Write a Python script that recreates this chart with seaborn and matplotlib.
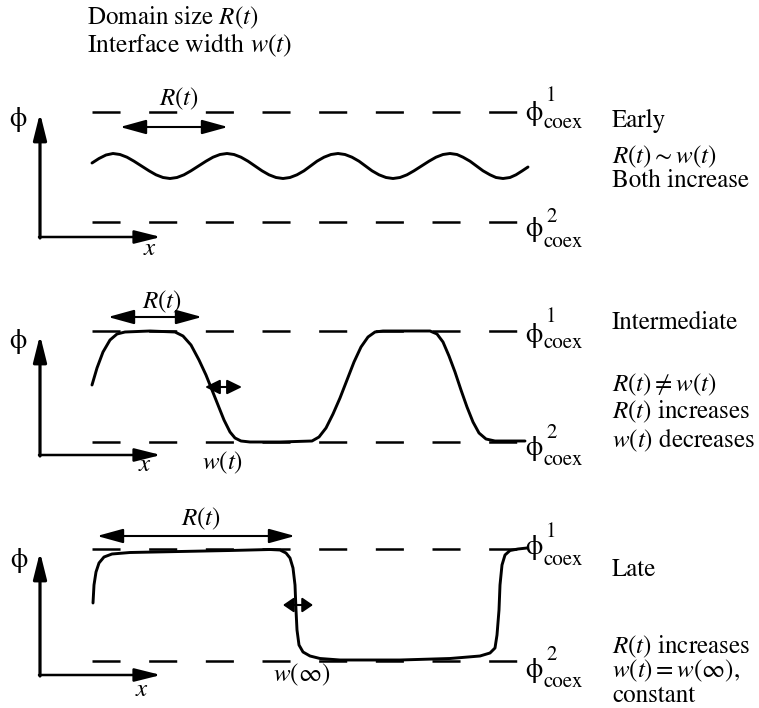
import matplotlib
matplotlib.use("Agg")
import matplotlib.pyplot as plt
import seaborn as sns
import pandas as pd

# ---------------- data (in picture pixel units) -------------
early_x = [92, 99, 106,
           113, 120, 127, 134, 141.5, 149, 156, 163,
           170, 177, 184, 191, 198.5, 206, 213, 220,
           227, 234, 241, 248, 255, 262, 269, 276,
           283, 290, 297, 304, 310.5, 317, 324, 331,
           338, 345, 352, 359, 365.5, 372, 379, 386,
           393, 400, 407, 414, 421.5, 429, 436, 443,
           450, 457, 463, 470, 476.5, 483, 490, 496,
           503, 510, 516, 522, 528]
early_y = [163, 158.5, 155,
           153.5, 154.5, 157.2, 161.2, 166, 170.8, 174.8, 177.5,
           178.5, 177.5, 174.8, 170.8, 166, 161.2, 157.2, 154.5,
           153.5, 154.5, 157.2, 161.2, 166, 170.8, 174.8, 177.5,
           178.5, 177.5, 174.8, 170.8, 166, 161.2, 157.2, 154.5,
           153.5, 154.5, 157.2, 161.2, 166, 170.8, 174.8, 177.5,
           178.5, 177.5, 174.8, 170.8, 166, 161.2, 157.2, 154.5,
           153.5, 154.5, 157.2, 161.2, 166, 170.8, 174.8, 177.5,
           178.5, 177.5, 174.8, 171, 167]

inter_x = [92, 97, 103, 110, 117, 125, 150, 175, 183, 191, 199, 206, 212, 218, 224, 230, 235,
           241, 250, 280, 312, 319, 326, 333, 340, 347, 354, 361, 368, 375, 383, 400, 430, 437,
           443, 449, 455, 461, 467, 473, 479, 486, 495, 525]
inter_y = [385, 368, 352, 340, 334, 332, 331, 332, 336, 345, 360, 375, 390, 405, 420, 432, 438,
           441, 442, 442, 441, 437, 428, 414, 398, 380, 362, 347, 337, 332, 331, 331, 331, 334,
           342, 356, 372, 390, 407, 422, 433, 439, 441, 441]

late_x = [93, 94, 96, 99, 104, 112, 130, 180, 230, 270, 280, 286, 290, 293, 295, 296, 297, 299,
          303, 310, 320, 340, 400, 450, 480, 490, 495, 497, 499, 500, 502, 505, 510, 518, 527]
late_y = [603, 585, 572, 563, 557, 554, 552.5, 551.5, 550.5, 549.5, 550, 553, 558, 568, 585, 610,
          630, 645, 652, 656, 658.5, 660, 660, 658.5, 656, 653, 648, 635, 610, 585, 565, 555,
          550.5, 549, 548]

stage_names = ["Early", "Intermediate", "Late"]
coex_upper_y = [112, 331, 549]
coex_lower_y = [222, 442, 661]
dash_x = [92, 517]

# ---------------- figure --------------------------------------------------------------
sns.set_theme(style="white")
plt.rcParams["lines.scale_dashes"] = False
plt.rcParams["mathtext.fontset"] = "stix"
plt.rcParams["font.family"] = ["STIXGeneral", "DejaVu Serif"]

W, H = 759, 708
fig = plt.figure(figsize=(W / 100, H / 100), dpi=100)
fig.patch.set_facecolor("white")
ax = fig.add_axes([0, 0, 1, 1])

K = "black"
FS = 18

# curves
curve_df = pd.concat([
    pd.DataFrame({"x": early_x, "y": early_y, "stage": stage_names[0]}),
    pd.DataFrame({"x": inter_x, "y": inter_y, "stage": stage_names[1]}),
    pd.DataFrame({"x": late_x, "y": late_y, "stage": stage_names[2]}),
])
for st in stage_names:
    d = curve_df[curve_df["stage"] == st]
    sns.lineplot(data=d, x="x", y="y", sort=False, estimator=None, color=K,
                 lw=2.1, ax=ax, legend=False)
ax.set_xlim(0, W)
ax.set_ylim(H, 0)
ax.axis("off")

# coexistence dashed lines
for yu, yl in zip(coex_upper_y, coex_lower_y):
    for yy in (yu, yl):
        ax.plot(dash_x, [yy, yy], color=K, lw=1.8, dashes=(20.2, 20.6),
                solid_capstyle="butt", dash_capstyle="butt")

# axes arrows for each panel
axis_origin_y = [237, 455, 675]
axis_top_y = [113, 335, 552]
for oy, ty in zip(axis_origin_y, axis_top_y):
    ax.annotate("", xy=(40, ty), xytext=(40, oy + 1),
                arrowprops=dict(arrowstyle="-|>,head_length=0.8,head_width=0.2",
                                mutation_scale=20, lw=2.3, color=K,
                                shrinkA=0, shrinkB=0))
    ax.annotate("", xy=(161, oy), xytext=(39, oy),
                arrowprops=dict(arrowstyle="-|>,head_length=0.8,head_width=0.2",
                                mutation_scale=20, lw=1.8, color=K,
                                shrinkA=0, shrinkB=0))

phi_axis_pos = [(18, 119), (18, 341), (19, 560)]
x_label_pos = [(150, 249), (145, 465), (142, 690)]
for (px, py), (xx, xy) in zip(phi_axis_pos, x_label_pos):
    ax.text(px, py, "\u03d5", fontsize=20, ha="center", va="center", color=K)
    ax.text(xx, xy, "$x$", fontsize=FS, ha="center", va="center", color=K)

# double arrows R(t) and w(t)
def darrow(x0, x1, y, hl=0.8, hw=0.22, lw=1.5):
    ax.annotate("", xy=(x1, y), xytext=(x0, y),
                arrowprops=dict(arrowstyle=f"<|-|>,head_length={hl},head_width={hw}",
                                mutation_scale=20, lw=lw, color=K,
                                shrinkA=0, shrinkB=0))

darrow(120, 228, 127)
darrow(108, 202, 317)
darrow(97, 295, 536)
darrow(205, 242, 387, hl=0.45, hw=0.22)
darrow(283, 313, 605, hl=0.32, hw=0.22)

ax.text(179, 99, "$R(t)$", fontsize=FS, ha="center", va="center", color=K)
ax.text(162, 302, "$R(t)$", fontsize=FS, ha="center", va="center", color=K)
ax.text(201, 519, "$R(t)$", fontsize=FS, ha="center", va="center", color=K)
ax.text(223, 463, "$w(t)$", fontsize=FS, ha="center", va="center", color=K)
ax.text(302, 675, r"$w(\infty)$", fontsize=FS, ha="center", va="center", color=K)

# title
ax.text(87, 18, "Domain size $R(t)$", fontsize=18, ha="left", va="center", color=K)
ax.text(87, 45, "Interface width $w(t)$", fontsize=18.5, ha="left", va="center", color=K)

# phi_coex labels: (phi center y, superscript y, coex y, superscript)
coex_labels = [
    (113, 96, 123, "1"), (229, 217, 242, "2"),
    (335, 317, 343, "1"), (448, 433, 460, "2"),
    (547, 532, 560, "1"), (670, 655, 682, "2"),
]
for py, sy, cy, s in coex_labels:
    ax.text(534, py, "\u03d5", fontsize=20, ha="center", va="center", color=K)
    ax.text(546, sy, s, fontsize=15, ha="left", va="center", color=K)
    ax.text(543, cy, "coex", fontsize=15, ha="left", va="center", color=K)

# right-hand descriptions
right_texts = [
    (121, "Early"), (157, r"$R(t)\sim w(t)$"), (181, "Both increase"),
    (323, "Intermediate"), (385, r"$R(t)\neq w(t)$"), (412, "$R(t)$ increases"),
    (440, "$w(t)$ decreases"),
    (570, "Late"), (647, "$R(t)$ increases"), (671, r"$w(t)=w(\infty)$,"),
    (696, "constant"),
]
for y, t in right_texts:
    ax.text(612, y, t, fontsize=FS, ha="left", va="center", color=K)

fig.savefig("out.png", dpi=100, facecolor="white")
